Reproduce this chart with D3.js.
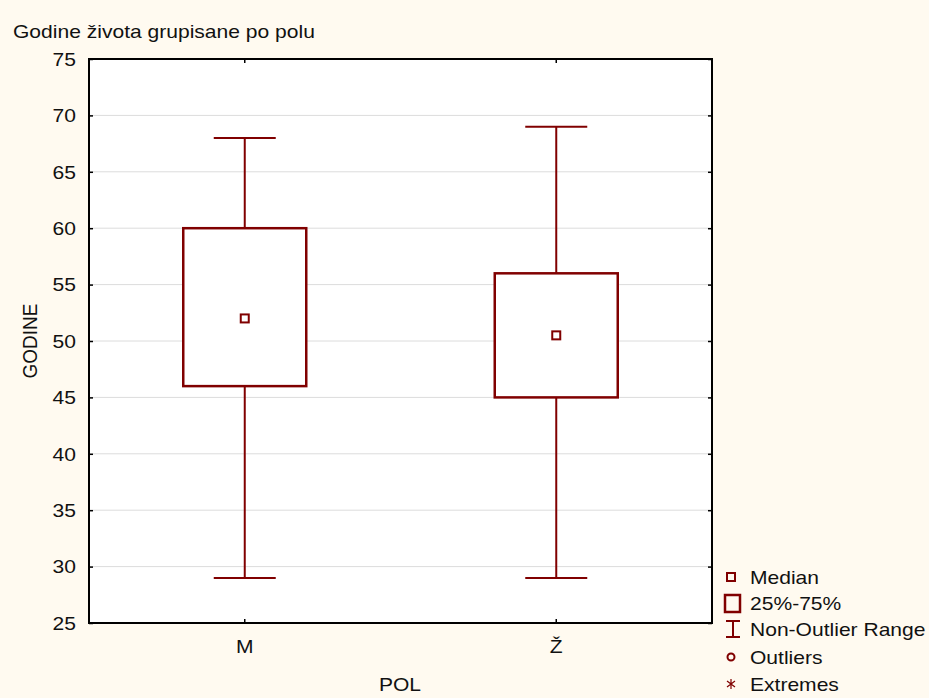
<!DOCTYPE html>
<html>
<head>
<meta charset="utf-8">
<script src="https://cdn.jsdelivr.net/npm/d3@7"></script>
<style>
	body { margin: 0; background: #fffaf0; }
	text { font-family: "Liberation Sans", Arial, sans-serif; fill: #111; }
</style>
</head>
<body>
<svg id="chart"></svg>
<script>
// data
var groups = ["M", "Ž"];
var medians = [52, 50.5];
var q1s = [46, 45];
var q3s = [60, 56];
var whiskerLows = [29, 29];
var whiskerHighs = [68, 69];
var yTicks = [25, 30, 35, 40, 45, 50, 55, 60, 65, 70, 75];
var legendLabels = ["Median", "25%-75%", "Non-Outlier Range", "Outliers", "Extremes"];

var W = 929, H = 698;
var dark = "#800000";
var x0 = 89, x1 = 712, y0 = 59, y1 = 623;
var stretch = 1.17; // text in the original is drawn a bit wide

var svg = d3.select("#chart").attr("width", W).attr("height", H);

svg.append("rect").attr("width", W).attr("height", H).attr("fill", "#fffaf0");

var xscale = d3.scaleBand().domain(groups).range([x0, x1]);
var yscale = d3.scaleLinear().domain([25, 75]).range([y1, y0]);

function widen(sel){
	sel.each(function(){
		var t = d3.select(this);
		var x = +t.attr("x") || 0, y = +t.attr("y") || 0;
		t.attr("x", 0).attr("y", 0)
			.attr("transform", "translate(" + x + "," + y + ") scale(" + stretch + ",1)");
	});
}

svg.append("rect")
	.attr("x", x0).attr("y", y0)
	.attr("width", x1 - x0).attr("height", y1 - y0)
	.attr("fill", "#fff");

// grid
svg.append("g").selectAll("line")
	.data(yTicks.slice(1, -1))
	.enter().append("line")
		.attr("x1", x0).attr("x2", x1)
		.attr("y1", function(d){ return yscale(d); })
		.attr("y2", function(d){ return yscale(d); })
		.attr("stroke", "#dcdcdc")
		.attr("stroke-width", 1);

// axes
var yaxis = d3.axisLeft(yscale).tickValues(yTicks).tickSize(-4).tickPadding(13);
var gY = svg.append("g").attr("transform", "translate(" + x0 + ",0)").call(yaxis);
var yaxisR = d3.axisRight(yscale).tickValues(yTicks).tickSize(-4).tickFormat("");
var gYR = svg.append("g").attr("transform", "translate(" + x1 + ",0)").call(yaxisR);
var xaxis = d3.axisBottom(xscale).tickSize(-4).tickPadding(12);
var gX = svg.append("g").attr("transform", "translate(0," + y1 + ")").call(xaxis);
var xaxisT = d3.axisTop(xscale).tickSize(-4).tickFormat("");
var gXT = svg.append("g").attr("transform", "translate(0," + y0 + ")").call(xaxisT);

[gY, gYR, gX, gXT].forEach(function(g){
	g.select(".domain").remove();
	g.selectAll(".tick line").attr("stroke", "#000").attr("stroke-width", 1.5);
	g.selectAll("text").style("font-size", "18px").attr("fill", "#111");
});
gY.selectAll("text").attr("dy", "0.35em");
gX.selectAll("text").attr("dy", "1em");
widen(gY.selectAll("text"));
widen(gX.selectAll("text"));

svg.append("rect")
	.attr("x", x0).attr("y", y0)
	.attr("width", x1 - x0).attr("height", y1 - y0)
	.attr("fill", "none").attr("stroke", "#000").attr("stroke-width", 2);

// boxes
var boxW = 123, capW = 62;
var g = svg.append("g").selectAll("g.box")
	.data(groups)
	.enter().append("g").attr("class", "box");

function cx(d){ return xscale(d) + xscale.bandwidth() / 2; }

g.append("line")
	.attr("x1", cx).attr("x2", cx)
	.attr("y1", function(d, i){ return yscale(whiskerHighs[i]); })
	.attr("y2", function(d, i){ return yscale(whiskerLows[i]); })
	.attr("stroke", dark).attr("stroke-width", 2);
[whiskerHighs, whiskerLows].forEach(function(arr){
	g.append("line")
		.attr("x1", function(d){ return cx(d) - capW / 2; })
		.attr("x2", function(d){ return cx(d) + capW / 2; })
		.attr("y1", function(d, i){ return yscale(arr[i]); })
		.attr("y2", function(d, i){ return yscale(arr[i]); })
		.attr("stroke", dark).attr("stroke-width", 2);
});
g.append("rect")
	.attr("x", function(d){ return cx(d) - boxW / 2; })
	.attr("y", function(d, i){ return yscale(q3s[i]); })
	.attr("width", boxW)
	.attr("height", function(d, i){ return yscale(q1s[i]) - yscale(q3s[i]); })
	.attr("fill", "#fff").attr("stroke", dark).attr("stroke-width", 2.5);
g.append("rect")
	.attr("x", function(d){ return cx(d) - 4; })
	.attr("y", function(d, i){ return yscale(medians[i]) - 4; })
	.attr("width", 8).attr("height", 8)
	.attr("fill", "#fff").attr("stroke", dark).attr("stroke-width", 2);

// labels
svg.append("text").attr("x", 13).attr("y", 38)
	.style("font-size", "18px").text("Godine života grupisane po polu")
	.call(widen);
svg.append("text").attr("x", 400).attr("y", 691)
	.attr("text-anchor", "middle").style("font-size", "18px").text("POL")
	.call(widen);
svg.append("text")
	.attr("transform", "translate(37," + ((y0 + y1) / 2) + ") rotate(-90) scale(1,1.1)")
	.attr("text-anchor", "middle").style("font-size", "19px").text("GODINE");

// legend
var legY = [577, 603, 629, 657, 684];
var leg = svg.append("g");
leg.append("rect").attr("x", 727).attr("y", legY[0] - 4).attr("width", 8).attr("height", 8)
	.attr("fill", "none").attr("stroke", dark).attr("stroke-width", 2);
leg.append("rect").attr("x", 725).attr("y", legY[1] - 8).attr("width", 15).attr("height", 17)
	.attr("fill", "none").attr("stroke", dark).attr("stroke-width", 2.5);
leg.append("path").attr("d", "M726," + (legY[2] - 8) + "H740M733," + (legY[2] - 8) + "V" + (legY[2] + 8) + "M726," + (legY[2] + 8) + "H740")
	.attr("fill", "none").attr("stroke", dark).attr("stroke-width", 2);
leg.append("circle").attr("cx", 731).attr("cy", legY[3]).attr("r", 3.5)
	.attr("fill", "none").attr("stroke", dark).attr("stroke-width", 2);
leg.append("path").attr("d", "M731," + (legY[4] - 5) + "V" + (legY[4] + 5) + "M727," + (legY[4] - 3) + "L735," + (legY[4] + 3) + "M727," + (legY[4] + 3) + "L735," + (legY[4] - 3))
	.attr("fill", "none").attr("stroke", dark).attr("stroke-width", 1.2);
leg.selectAll("text")
	.data(legendLabels)
	.enter().append("text")
		.attr("x", 750)
		.attr("y", function(d, i){ return legY[i] + 7; })
		.style("font-size", "18px")
		.text(function(d){ return d; })
		.call(widen);
</script>
</body>
</html>
